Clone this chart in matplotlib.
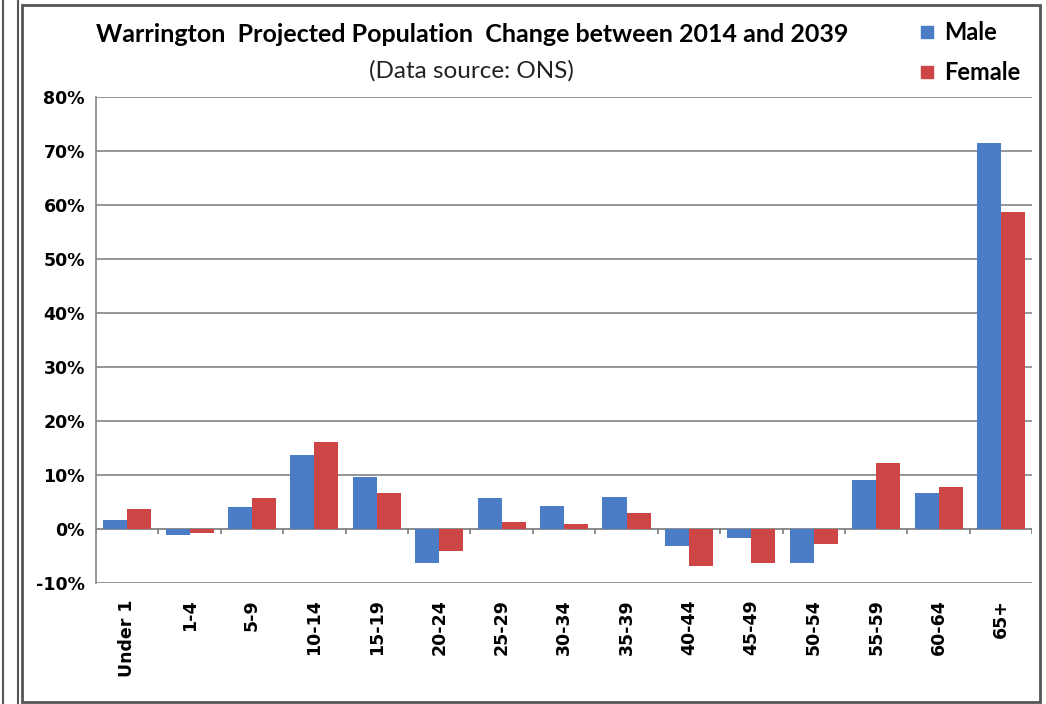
import numpy as np
import matplotlib.pyplot as plt
from matplotlib.patches import Rectangle
from matplotlib.lines import Line2D
from matplotlib.ticker import FuncFormatter

# age bands and projected % change 2014 -> 2039
age_groups = ['Under 1', '1-4', '5-9', '10-14', '15-19', '20-24', '25-29', '30-34',
              '35-39', '40-44', '45-49', '50-54', '55-59', '60-64', '65+']
male = [1.6, -1.2, 4.0, 13.7, 9.6, -6.3, 5.7, 4.2, 6.0, -3.2, -1.6, -6.3, 9.0, 6.6, 71.5]
female = [3.7, -0.7, 5.7, 16.1, 6.6, -4.0, 1.3, 0.9, 3.0, -6.9, -6.3, -2.7, 12.3, 7.8, 58.8]

male_col = '#4a7dc6'
female_col = '#cd4545'
title_font = ['Lato', 'DejaVu Sans']

fig = plt.figure(figsize=(10.46, 7.04), dpi=100)
ax = fig.add_axes([0.0918, 0.172, 0.895, 0.690])

x = np.arange(len(age_groups))
w = 0.385
ax.bar(x - w / 2, male, w, color=male_col, label='Male', zorder=3)
ax.bar(x + w / 2, female, w, color=female_col, label='Female', zorder=3)

ax.set_ylim(-10, 80)
ax.set_xlim(-0.5, len(age_groups) - 0.5)
ax.set_yticks(np.arange(-10, 81, 10))
ax.yaxis.set_major_formatter(FuncFormatter(lambda v, p: '%d%%' % v))
ax.grid(axis='y', color='#8c8c8c', linewidth=1.3, zorder=0)
ax.axhline(0, color='#8c8c8c', linewidth=1.3, zorder=2)
# category divider ticks hanging under the zero line
ax.vlines(np.arange(len(age_groups) + 1) - 0.5, -0.9, 0, color='#707070', linewidth=1.1, zorder=2)

ax.set_xticks(x)
ax.set_xticklabels(age_groups, rotation=90, fontsize=12.5, fontweight='bold')
ax.tick_params(axis='x', length=0, pad=12)
ax.tick_params(axis='y', length=0, pad=8, labelsize=12.5)
for lab in ax.get_yticklabels():
    lab.set_fontweight('bold')

for s in ['top', 'right', 'bottom']:
    ax.spines[s].set_visible(False)
ax.spines['left'].set_color('#8c8c8c')
ax.spines['left'].set_linewidth(1.3)

fig.text(0.451, 0.951, 'Warrington  Projected Population  Change between 2014 and 2039',
         ha='center', va='center', fontsize=18, fontweight='bold', family=title_font)
fig.text(0.451, 0.899, '(Data source: ONS)', ha='center', va='center',
         fontsize=17.5, family=title_font, color='#222222')

# legend at top right, drawn as square markers
handles = [Line2D([], [], marker='s', linestyle='', color=male_col, markersize=8),
           Line2D([], [], marker='s', linestyle='', color=female_col, markersize=8)]
leg = fig.legend(handles, ['Male', 'Female'], loc='upper left', bbox_to_anchor=(0.855, 1.0),
                 frameon=False, labelspacing=0.7, handletextpad=0.2, handlelength=1.0,
                 prop={'family': title_font, 'weight': 'bold', 'size': 17})

# outer frames
fig.patches.append(Rectangle((0.021, 0.003), 0.973, 0.99, transform=fig.transFigure,
                             fill=False, edgecolor='#555555', linewidth=2.0))
fig.lines.append(Line2D([0.003, 0.003], [0, 1], transform=fig.transFigure, color='#555555', linewidth=1.5))
fig.lines.append(Line2D([0.017, 0.017], [0, 1], transform=fig.transFigure, color='#555555', linewidth=1.5))

fig.savefig('out.png', dpi=100)
